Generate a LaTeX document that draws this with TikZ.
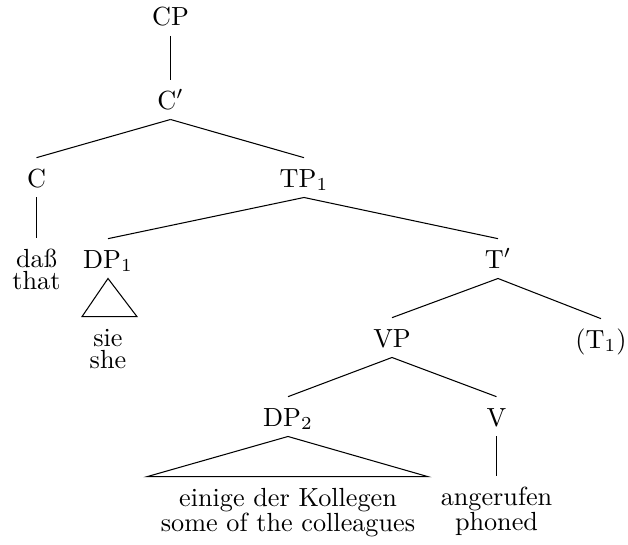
\documentclass[tikz,border=0pt]{standalone}
\usetikzlibrary{calc}
\begin{document}
\begin{tikzpicture}[x=0.38168pt,y=-0.38168pt,
  cat/.style={inner sep=0pt,text height=11pt,text depth=3.8pt,anchor=base},
  word/.style={inner sep=0pt,anchor=base},
  branch/.style={line width=0.4pt}]
\useasboundingbox (0,0) rectangle (628,544);
% categories
\node[cat] (CP)  at (170.5,25.5) {CP};
\node[cat] (Cbar) at (170.5,109) {C$'$};
\node[cat] (C)   at (36.5,187) {C};
\node[cat] (TP)  at (304,187) {TP$_1$};
\node[cat] (DP1) at (108,268) {DP$_1$};
\node[cat] (Tbar) at (498,268) {T$'$};
\node[cat] (VP)  at (392,347) {VP};
\node[cat] (T1)  at (601,348) {(T$_1$)};
\node[cat] (DP2) at (288,426) {DP$_2$};
\node[cat] (V)   at (496.5,426) {V};
% leaves
\node[cat]  (dass) at (36.5,267) {daß};
\node[word] (that) at (36.5,289.5) {that};
\node[cat]  (sie)  at (108,346) {sie};
\node[word] (she)  at (108,368.5) {she};
\node[cat]  (einige) at (288,506) {einige der Kollegen};
\node[word] (some)   at (288,531.5) {some of the colleagues};
\node[cat]  (anger)  at (496.5,505) {angerufen};
\node[word] (phoned) at (496.5,530.5) {phoned};
% branches
\draw[branch] (CP.south) -- (Cbar.north);
\draw[branch] (Cbar.south) -- (C.north);
\draw[branch] (Cbar.south) -- (TP.north);
\draw[branch] (C.south) -- (dass.north);
\draw[branch] (TP.south) -- (DP1.north);
\draw[branch] (TP.south) -- (Tbar.north);
\draw[branch] (Tbar.south) -- (VP.north);
\draw[branch] (Tbar.south) -- (T1.north);
\draw[branch] (VP.south) -- (DP2.north);
\draw[branch] (VP.south) -- (V.north);
\draw[branch] (V.south) -- (anger.north);
% roofs
\coordinate (r1l) at ($(sie.north)+(-26,0)$);
\coordinate (r1r) at ($(sie.north)+(29,0)$);
\draw[branch] (DP1.south) -- (r1l) -- (r1r) -- cycle;
\coordinate (r2l) at ($(einige.north)+(-141,0)$);
\coordinate (r2r) at ($(einige.north)+(140,0)$);
\draw[branch] (DP2.south) -- (r2l) -- (r2r) -- cycle;
\end{tikzpicture}
\end{document}
